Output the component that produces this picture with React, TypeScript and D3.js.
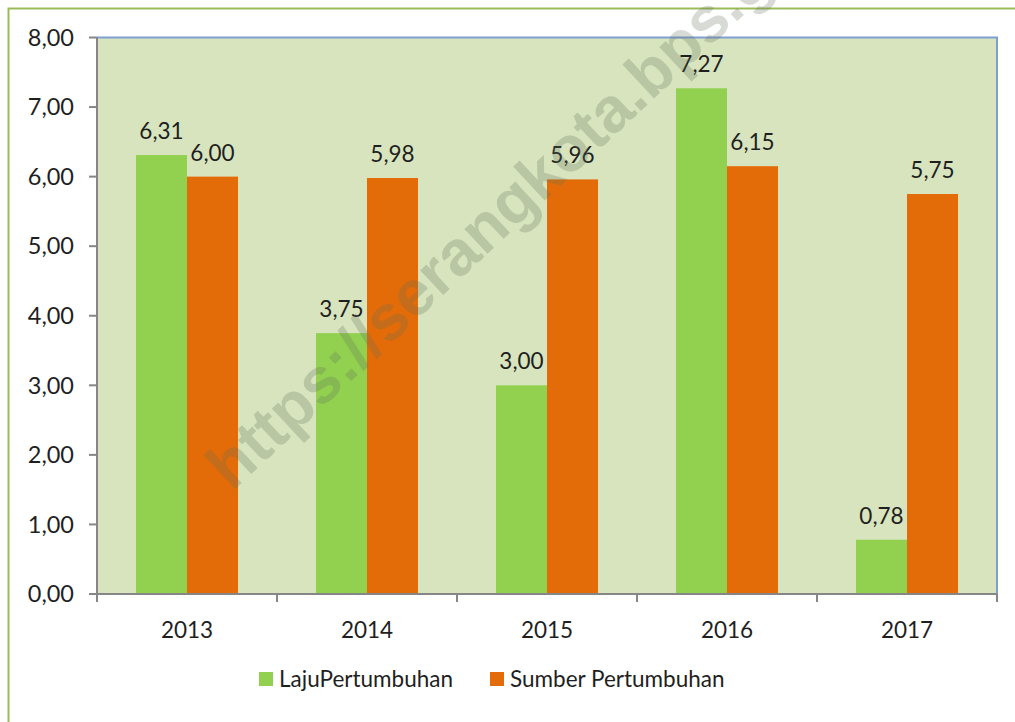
import React from "react";
import * as d3 from "d3";

const categories = ["2013", "2014", "2015", "2016", "2017"];
const seriesNames = ["LajuPertumbuhan", "Sumber Pertumbuhan"];
const lajuValues = [6.31, 3.75, 3.0, 7.27, 0.78];
const sumberValues = [6.0, 5.98, 5.96, 6.15, 5.75];
const yTicks = [0, 1, 2, 3, 4, 5, 6, 7, 8];
const colors = ["#92d050", "#e36c09"];
const watermark = "https://serangkota.bps.go.id";

const W = 1015;
const H = 722;
const plot = { left: 97, right: 997, top: 37.5, bottom: 594 };
const FONT = "Lato, 'Open Sans', sans-serif";
const TEXT = "#1f1f1f";
const fmt = (v: number) => v.toFixed(2).replace(".", ",");

export default function App() {
  const x = d3.scaleBand<string>().domain(categories).range([plot.left, plot.right]).paddingInner(0).paddingOuter(0);
  const inner = d3
    .scaleBand<string>()
    .domain(seriesNames)
    .range([39, x.bandwidth() - 39])
    .padding(0);
  const y = d3.scaleLinear().domain([0, 8]).range([plot.bottom, plot.top]);
  const series = [lajuValues, sumberValues];

  return (
    <svg
      width={W}
      height={H}
      style={{ position: "absolute", left: 0, top: 0, background: "#ffffff" }}
      fontFamily={FONT}
    >
      <rect x={0} y={0} width={W} height={H} fill="#ffffff" />
      <rect x={8.5} y={8.5} width={W + 20} height={H + 20} fill="none" stroke="#9bbb59" strokeWidth={2} />
      <rect
        x={plot.left}
        y={plot.top}
        width={plot.right - plot.left}
        height={plot.bottom - plot.top}
        fill="#d7e4bd"
      />
      <path
        d={`M${plot.left},${plot.top}H${plot.right}V${plot.bottom}`}
        fill="none"
        stroke="#7f9fd3"
        strokeWidth={2}
      />
      {series.map((vals, si) =>
        vals.map((v, ci) => {
          const bx = (x(categories[ci]) as number) + (inner(seriesNames[si]) as number);
          return (
            <rect
              key={`b${si}-${ci}`}
              x={bx}
              y={y(v)}
              width={inner.bandwidth()}
              height={y(0) - y(v)}
              fill={colors[si]}
            />
          );
        })
      )}
      {series.map((vals, si) =>
        vals.map((v, ci) => {
          const bx = (x(categories[ci]) as number) + (inner(seriesNames[si]) as number) + inner.bandwidth() / 2;
          return (
            <text
              key={`l${si}-${ci}`}
              x={bx}
              y={y(v) - 16}
              textAnchor="middle"
              fontSize={22.5}
              fill={TEXT}
            >
              {fmt(v)}
            </text>
          );
        })
      )}
      <line x1={plot.left} y1={plot.top} x2={plot.left} y2={plot.bottom} stroke="#868686" strokeWidth={2} />
      {yTicks.map((t) => (
        <g key={`yt${t}`}>
          <line x1={plot.left - 8} x2={plot.left} y1={y(t)} y2={y(t)} stroke="#868686" strokeWidth={2} />
          <text x={74} y={y(t)} dy="0.35em" textAnchor="end" fontSize={23.5} fill={TEXT}>
            {fmt(t)}
          </text>
        </g>
      ))}
      <line x1={plot.left - 8} y1={plot.bottom} x2={plot.right} y2={plot.bottom} stroke="#868686" strokeWidth={2} />
      {[...categories.map((c) => x(c) as number), plot.right].map((px, i) => (
        <line key={`xt${i}`} x1={px} x2={px} y1={plot.bottom} y2={plot.bottom + 8} stroke="#868686" strokeWidth={2} />
      ))}
      {categories.map((c) => (
        <text
          key={`xl${c}`}
          x={(x(c) as number) + x.bandwidth() / 2}
          y={638}
          textAnchor="middle"
          fontSize={22.5}
          fill={TEXT}
        >
          {c}
        </text>
      ))}
      <rect x={259} y={672} width={14} height={14} fill={colors[0]} />
      <text x={279} y={687} fontSize={22.5} fill={TEXT}>
        {seriesNames[0]}
      </text>
      <rect x={490} y={672} width={14} height={14} fill={colors[1]} />
      <text x={510} y={687} fontSize={22.5} fill={TEXT}>
        {seriesNames[1]}
      </text>
      <text
        x={232}
        y={492}
        transform="rotate(-43 232 492)"
        fontSize={64}
        fontWeight="bold"
        fill="#5f6a58"
        fillOpacity={0.25}
        fontFamily="'Liberation Sans', Arial, sans-serif"
      >
        {watermark}
      </text>
    </svg>
  );
}
